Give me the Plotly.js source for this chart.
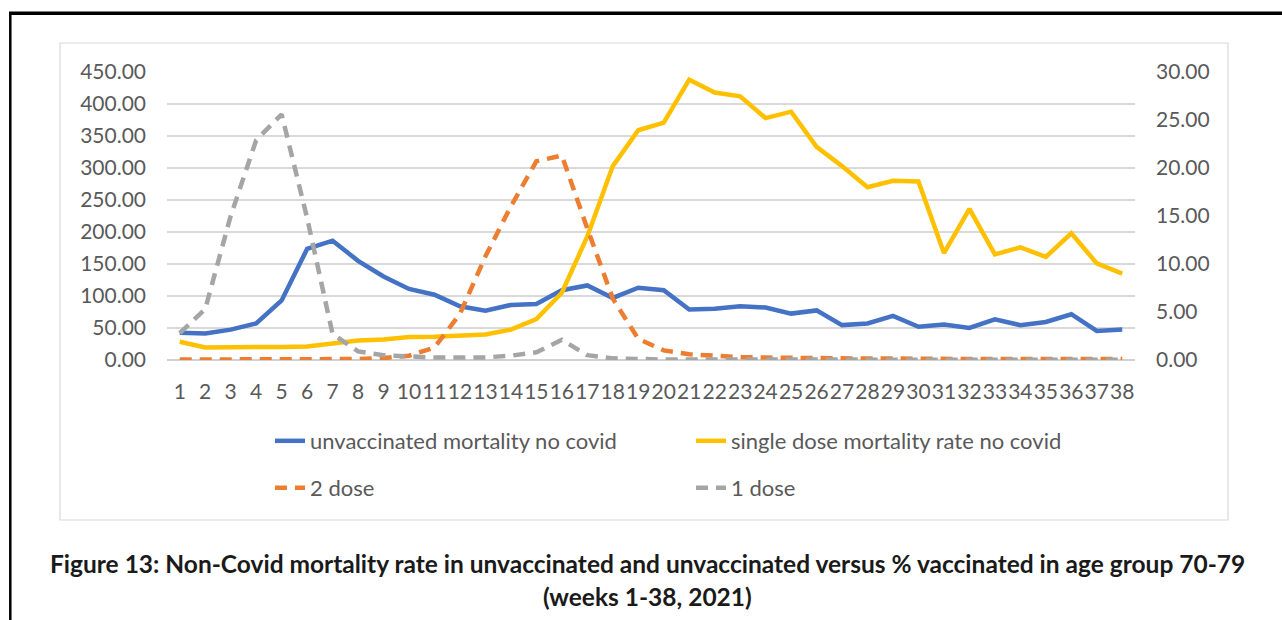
<!DOCTYPE html>
<html>
<head>
<meta charset="utf-8">
<script src="https://cdn.plot.ly/plotly-3.0.1.min.js"></script>
<style>
  html, body { margin: 0; padding: 0; background: #ffffff; }
  #chart { width: 1282px; height: 620px; }
</style>
</head>
<body>
<div id="chart"></div>
<script>
// ---- data ----
const weeks = [1,2,3,4,5,6,7,8,9,10,11,12,13,14,15,16,17,18,19,20,21,22,23,24,25,26,27,28,29,30,31,32,33,34,35,36,37,38];

const unvaccinatedMortality = [42.5,41.5,47.5,57,93,173.5,186.5,155,130.5,111,102,84,77,86,87.5,109,116.5,97,113,109,79,80,84,82,72.5,77.5,54.5,57,69,52,55.5,50,63.5,54.5,59.5,71.5,45.5,47.5];

const singleDoseMortality = [28.5,19.5,20,21,20.5,21,26,30.5,32,36,36.5,37.5,40,47.5,64,105,193,303,359,371,438,418,412,378,388,333,303,270,280,279,167,236,165,176,161,198,151,135];

const twoDosePct = [0.05,0.05,0.05,0.05,0.05,0.05,0.05,0.1,0.2,0.45,1.3,4.8,10.8,16.0,20.7,21.3,13.7,6.4,2.2,1.0,0.6,0.4,0.3,0.25,0.2,0.2,0.15,0.15,0.15,0.1,0.1,0.1,0.1,0.1,0.1,0.1,0.1,0.1];

const oneDosePct = [2.8,5.3,15.0,22.9,25.6,14.8,2.7,0.9,0.5,0.35,0.25,0.25,0.27,0.45,0.8,2.1,0.5,0.17,0.07,0.05,0.05,0.04,0.04,0.04,0.03,0.03,0.03,0.03,0.03,0.03,0.03,0.03,0.03,0.03,0.03,0.03,0.03,0.03];

const seriesNames = ["unvaccinated mortality no covid", "single dose mortality rate no covid", "2 dose", "1 dose"];
const titleLine1 = "Figure 13: Non-Covid mortality rate in unvaccinated and unvaccinated versus % vaccinated in age group 70-79";
const titleLine2 = "(weeks 1-38, 2021)";

// ---- styling ----
const FONT = "Lato, 'Open Sans', sans-serif";
const TXT = "#595959";
const LW = 4.5;
const DASH = "12px,8px";

const traces = [
  { x: weeks, y: unvaccinatedMortality, name: seriesNames[0], type: "scatter", mode: "lines",
    line: { color: "#4472C4", width: LW }, yaxis: "y", legend: "legend" },
  { x: weeks, y: singleDoseMortality, name: seriesNames[1], type: "scatter", mode: "lines",
    line: { color: "#FFC000", width: LW }, yaxis: "y", legend: "legend" },
  { x: weeks, y: twoDosePct, name: seriesNames[2], type: "scatter", mode: "lines",
    line: { color: "#ED7D31", width: LW, dash: DASH }, yaxis: "y2", legend: "legend2" },
  { x: weeks, y: oneDosePct, name: seriesNames[3], type: "scatter", mode: "lines",
    line: { color: "#A5A5A5", width: LW, dash: DASH }, yaxis: "y2", legend: "legend2" }
];

// plot area geometry in pixels
const L = 167, T = 72, W = 968, H = 288;
const px = v => (v - L) / W;          // pixel x -> paper x
const py = v => (T + H - v) / H;      // pixel y -> paper y

const legendCommon = {
  orientation: "h", xanchor: "left", yanchor: "middle",
  font: { family: FONT, size: 22, color: TXT },
  bgcolor: "rgba(0,0,0,0)", entrywidth: 376, entrywidthmode: "pixels",
  itemclick: false, itemdoubleclick: false
};

const layout = {
  width: 1282, height: 620,
  margin: { l: L, r: 1282 - L - W, t: T, b: 620 - T - H, pad: 0 },
  paper_bgcolor: "#ffffff", plot_bgcolor: "#ffffff",
  showlegend: true,
  hovermode: false,
  font: { family: FONT, color: TXT },
  xaxis: {
    range: [0.5, 38.5], tickmode: "linear", tick0: 1, dtick: 1, tickangle: 0,
    showgrid: false, zeroline: false, showline: false, ticks: "",
    tickfont: { family: FONT, size: 21, color: TXT },
    ticklabelstandoff: 17, fixedrange: true
  },
  yaxis: {
    range: [0, 450], tickmode: "linear", tick0: 0, dtick: 50, tickformat: ".2f",
    showgrid: true, gridcolor: "#d9d9d9", gridwidth: 1.5,
    zeroline: true, zerolinecolor: "#d0d0d0", zerolinewidth: 1.5,
    showline: false, ticks: "",
    tickfont: { family: FONT, size: 21, color: TXT },
    ticklabelstandoff: 20, fixedrange: true
  },
  yaxis2: {
    range: [0, 30], tickmode: "linear", tick0: 0, dtick: 5, tickformat: ".2f",
    overlaying: "y", side: "right", showgrid: false, zeroline: false, showline: false, ticks: "",
    tickfont: { family: FONT, size: 21, color: TXT },
    ticklabelstandoff: 20, fixedrange: true
  },
  legend: Object.assign({}, legendCommon, { x: px(270), y: py(441) }),
  legend2: Object.assign({}, legendCommon, { x: px(270), y: py(488) }),
  shapes: [
    // inner chart box
    { type: "rect", xref: "paper", yref: "paper", x0: px(60), x1: px(1228), y0: py(520), y1: py(43),
      line: { color: "#d9d9d9", width: 1.2 }, fillcolor: "rgba(0,0,0,0)", layer: "below" },
    // outer black frame (top and left)
    { type: "line", xref: "paper", yref: "paper", x0: px(9), x1: px(1300), y0: py(13.3), y1: py(13.3),
      line: { color: "#000000", width: 3.5 } },
    { type: "line", xref: "paper", yref: "paper", x0: px(10.3), x1: px(10.3), y0: py(12), y1: py(640),
      line: { color: "#000000", width: 2.5 } }
  ],
  annotations: [
    { text: titleLine1, xref: "paper", yref: "paper", x: px(647), y: py(563),
      xanchor: "center", yanchor: "middle", showarrow: false,
      font: { family: FONT, size: 24.5, color: "#1a1a1a", weight: "bold" } },
    { text: titleLine2, xref: "paper", yref: "paper", x: px(647), y: py(596),
      xanchor: "center", yanchor: "middle", showarrow: false,
      font: { family: FONT, size: 24.5, color: "#1a1a1a", weight: "bold" } }
  ]
};

Plotly.newPlot("chart", traces, layout, { displayModeBar: false, staticPlot: true });
</script>
</body>
</html>
